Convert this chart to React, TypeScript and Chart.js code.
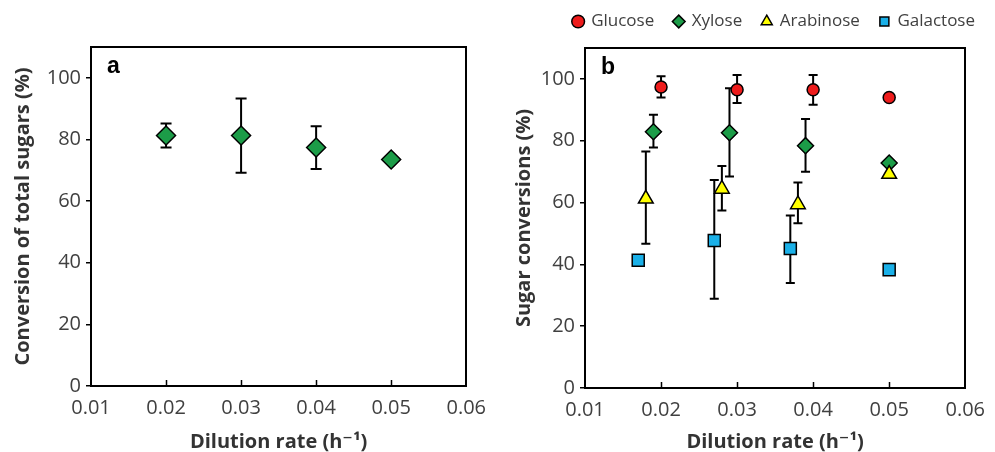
import React, { useEffect, useRef } from "react";
import { Chart, registerables } from "chart.js";

Chart.register(...registerables);

// ---------- Data ----------
// Panel a: conversion of total sugars
const totalX = [0.02, 0.03, 0.04, 0.05];
const totalY = [81.3, 81.3, 77.4, 73.5];
const totalLo = [77.4, 69.2, 70.4, null];
const totalHi = [85.2, 93.3, 84.3, null];

// Panel b: individual sugar conversions
const glucoseX = [0.02, 0.03, 0.04, 0.05];
const glucoseY = [97.4, 96.5, 96.5, 94.0];
const glucoseLo = [94.0, 92.2, 91.6, null];
const glucoseHi = [100.9, 101.3, 101.3, null];

const xyloseX = [0.019, 0.029, 0.039, 0.05];
const xyloseY = [82.9, 82.6, 78.4, 72.8];
const xyloseLo = [77.8, 68.4, 70.0, null];
const xyloseHi = [88.4, 97.0, 87.0, null];

const arabinoseX = [0.018, 0.028, 0.038, 0.05];
const arabinoseY = [61.2, 64.4, 59.4, 69.2];
const arabinoseLo = [46.7, 57.4, 53.3, null];
const arabinoseHi = [76.5, 71.8, 66.5, null];

const galactoseX = [0.017, 0.027, 0.037, 0.05];
const galactoseY = [41.3, 47.7, 45.1, 38.3];
const galactoseLo = [null, 28.9, 34.0, null];
const galactoseHi = [null, 67.3, 55.8, null];

const seriesNames = ["Glucose", "Xylose", "Arabinose", "Galactose"];
const xTitle = "Dilution rate (h\u207B\u00B9)";
const yTitleA = "Conversion of total sugars (%)";
const yTitleB = "Sugar conversions (%)";
const xMin = 0.01;
const xMax = 0.06;
const xStep = 0.01;
const yMin = 0;
const yMax = 110;
const yStep = 20;
const yTickTop = 100;

// ---------- Helpers ----------
const FONT = '"Open Sans", "DejaVu Sans", sans-serif';
const TEXT = "#404040";

function toPoints(xs: number[], ys: number[], lo: (number | null)[], hi: (number | null)[]) {
  return xs.map((x, i) => ({ x, y: ys[i], yMin: lo[i], yMax: hi[i] }));
}

const errorBarPlugin = {
  id: "errorBars",
  beforeDatasetsDraw(chart: any, _args: any, opts: any) {
    const { ctx } = chart;
    const xs = chart.scales.x;
    const ys = chart.scales.y;
    const cap = opts.capHalf ?? 5;
    ctx.save();
    ctx.strokeStyle = "#000";
    ctx.lineWidth = opts.lineWidth ?? 2;
    chart.data.datasets.forEach((ds: any, i: number) => {
      if (!chart.isDatasetVisible(i)) return;
      ds.data.forEach((p: any) => {
        if (p.yMin == null || p.yMax == null) return;
        const px = xs.getPixelForValue(p.x);
        const y1 = ys.getPixelForValue(p.yMin);
        const y2 = ys.getPixelForValue(p.yMax);
        ctx.beginPath();
        ctx.moveTo(px, y1);
        ctx.lineTo(px, y2);
        ctx.moveTo(px - cap, y1);
        ctx.lineTo(px + cap, y1);
        ctx.moveTo(px - cap, y2);
        ctx.lineTo(px + cap, y2);
        ctx.stroke();
      });
    });
    ctx.restore();
  },
};

const innerTicksPlugin = {
  id: "innerTicks",
  afterDraw(chart: any) {
    const { ctx } = chart;
    const xs = chart.scales.x;
    const bottom = chart.chartArea.bottom;
    ctx.save();
    ctx.strokeStyle = "#000";
    ctx.lineWidth = 1.5;
    xs.ticks.forEach((t: any) => {
      if (t.value <= xs.min + 1e-9 || t.value >= xs.max - 1e-9) return;
      const px = Math.round(xs.getPixelForValue(t.value)) + 0.5;
      ctx.beginPath();
      ctx.moveTo(px, bottom);
      ctx.lineTo(px, bottom - 6);
      ctx.stroke();
    });
    ctx.restore();
  },
};

const panelLabelPlugin = {
  id: "panelLabel",
  afterDraw(chart: any, _args: any, opts: any) {
    if (!opts.text) return;
    const { ctx, chartArea } = chart;
    ctx.save();
    ctx.fillStyle = "#000";
    ctx.font = 'bold 23px "Liberation Sans", Arial, sans-serif';
    ctx.textBaseline = "alphabetic";
    ctx.fillText(opts.text, chartArea.left + 16, chartArea.top + 26);
    ctx.restore();
  },
};

function buildScales(cfg: {
  yTitle: string;
  yWidth: number;
  yTitlePad: number;
  xHeight: number;
  topGap: number;
  rightGap: number;
}) {
  return {
    x: {
      type: "linear",
      position: "bottom",
      min: xMin,
      max: xMax,
      ticks: {
        stepSize: xStep,
        autoSkip: false,
        maxRotation: 0,
        padding: 10,
        color: TEXT,
        font: { family: FONT, size: 20 },
        callback: (v: any) => Number(v).toFixed(2),
      },
      grid: { display: false, drawTicks: false },
      border: { display: true, color: "#000", width: 2 },
      title: {
        display: true,
        text: xTitle,
        color: "#333",
        font: { family: FONT, size: 20, weight: "bold", lineHeight: 1 },
        padding: { top: 0, bottom: 0 },
      },
      afterFit: (s: any) => {
        s.height = cfg.xHeight;
      },
    },
    x2: {
      type: "linear",
      position: "top",
      min: xMin,
      max: xMax,
      ticks: { display: false },
      grid: { display: false, drawTicks: false },
      border: { display: true, color: "#000", width: 2 },
      afterFit: (s: any) => {
        s.height = cfg.topGap;
      },
    },
    y: {
      type: "linear",
      position: "left",
      min: yMin,
      max: yMax,
      afterBuildTicks: (s: any) => {
        s.ticks = s.ticks.filter((t: any) => t.value <= yTickTop);
      },
      ticks: {
        stepSize: yStep,
        padding: 5,
        color: TEXT,
        font: { family: FONT, size: 20 },
      },
      grid: {
        display: true,
        drawOnChartArea: false,
        drawTicks: true,
        tickLength: 5,
        color: "#000",
        lineWidth: 1.5,
      },
      border: { display: true, color: "#000", width: 2 },
      title: {
        display: true,
        text: cfg.yTitle,
        color: "#333",
        font: { family: FONT, size: 20, weight: "bold", lineHeight: 1.2 },
        padding: { top: cfg.yTitlePad, bottom: 0 },
      },
      afterFit: (s: any) => {
        s.width = cfg.yWidth;
      },
    },
    y2: {
      type: "linear",
      position: "right",
      min: yMin,
      max: yMax,
      ticks: { display: false },
      grid: { display: false, drawTicks: false },
      border: { display: true, color: "#000", width: 2 },
      afterFit: (s: any) => {
        s.width = cfg.rightGap;
      },
    },
  };
}

function makeConfigA(): any {
  return {
    type: "scatter",
    data: {
      datasets: [
        {
          label: "Total sugars",
          data: toPoints(totalX, totalY, totalLo, totalHi),
          pointStyle: "rectRot",
          pointRadius: 9.5,
          pointHoverRadius: 9.5,
          backgroundColor: "#1c9c48",
          borderColor: "#000",
          borderWidth: 1.5,
        },
      ],
    },
    options: {
      responsive: false,
      animation: false,
      devicePixelRatio: 1,
      layout: { padding: { top: 47, left: 0, right: 0, bottom: 0 } },
      plugins: {
        legend: { display: false },
        tooltip: { enabled: false },
        errorBars: { capHalf: 5.5, lineWidth: 2 },
        panelLabel: { text: "a" },
      },
      scales: buildScales({
        yTitle: yTitleA,
        yWidth: 91,
        yTitlePad: 11,
        xHeight: 66,
        topGap: 0,
        rightGap: 21,
      }),
    },
    plugins: [errorBarPlugin, innerTicksPlugin, panelLabelPlugin],
  };
}

function makeConfigB(): any {
  const common = { borderColor: "#000", borderWidth: 1.5 };
  return {
    type: "scatter",
    data: {
      datasets: [
        {
          label: seriesNames[0],
          data: toPoints(glucoseX, glucoseY, glucoseLo, glucoseHi),
          pointStyle: "circle",
          pointRadius: 6,
          pointHoverRadius: 6,
          backgroundColor: "#ee1c1c",
          order: 4,
          ...common,
        },
        {
          label: seriesNames[1],
          data: toPoints(xyloseX, xyloseY, xyloseLo, xyloseHi),
          pointStyle: "rectRot",
          pointRadius: 8,
          pointHoverRadius: 8,
          backgroundColor: "#1c9c48",
          order: 3,
          ...common,
        },
        {
          label: seriesNames[2],
          data: toPoints(arabinoseX, arabinoseY, arabinoseLo, arabinoseHi),
          pointStyle: "triangle",
          pointRadius: 8.5,
          pointHoverRadius: 8.5,
          backgroundColor: "#ffff00",
          order: 2,
          ...common,
        },
        {
          label: seriesNames[3],
          data: toPoints(galactoseX, galactoseY, galactoseLo, galactoseHi),
          pointStyle: "rect",
          pointRadius: 8.5,
          pointHoverRadius: 8.5,
          backgroundColor: "#1ab0e8",
          order: 1,
          ...common,
        },
      ],
    },
    options: {
      responsive: false,
      animation: false,
      devicePixelRatio: 1,
      layout: { padding: { top: 0, left: 0, right: 0, bottom: 0 } },
      plugins: {
        legend: {
          display: true,
          position: "top",
          align: "end",
          reverse: true,
          labels: {
            usePointStyle: true,
            boxWidth: 9,
            boxHeight: 9,
            padding: 20,
            color: TEXT,
            font: { family: FONT, size: 17 },
          },
        },
        tooltip: { enabled: false },
        errorBars: { capHalf: 4.5, lineWidth: 2 },
        panelLabel: { text: "b" },
      },
      scales: buildScales({
        yTitle: yTitleB,
        yWidth: 90,
        yTitlePad: 17,
        xHeight: 64,
        topGap: 8,
        rightGap: 21,
      }),
    },
    plugins: [errorBarPlugin, innerTicksPlugin, panelLabelPlugin],
  };
}

function ChartCanvas(props: { make: () => any; style: React.CSSProperties; width: number; height: number }) {
  const ref = useRef<HTMLCanvasElement | null>(null);
  useEffect(() => {
    if (!ref.current) return;
    const chart = new Chart(ref.current, props.make());
    return () => chart.destroy();
  }, []);
  return <canvas ref={ref} width={props.width} height={props.height} style={props.style} />;
}

export default function App() {
  return (
    <div
      style={{
        position: "fixed",
        left: 0,
        top: 0,
        width: 995,
        height: 452,
        overflow: "hidden",
        background: "#fff",
      }}
    >
      <ChartCanvas
        make={makeConfigA}
        width={496}
        height={452}
        style={{ position: "absolute", left: 0, top: 0, width: 496, height: 452 }}
      />
      <ChartCanvas
        make={makeConfigB}
        width={500}
        height={459}
        style={{ position: "absolute", left: 495, top: -7, width: 500, height: 459 }}
      />
    </div>
  );
}
